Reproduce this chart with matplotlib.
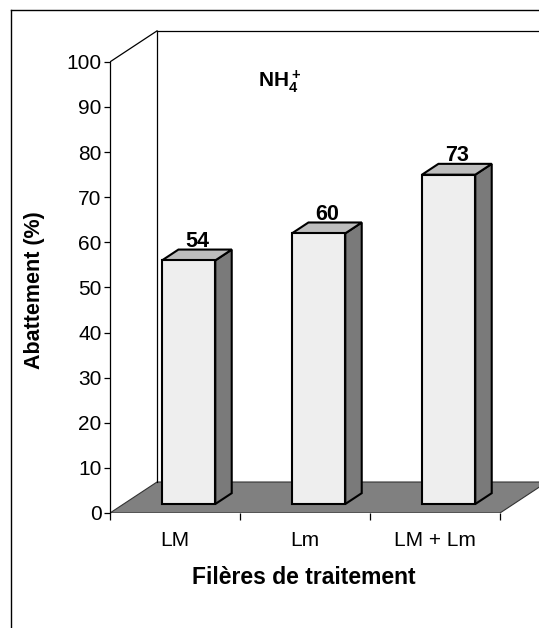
import matplotlib
matplotlib.use("Agg")
import matplotlib.pyplot as plt
from matplotlib.patches import Polygon
from matplotlib.lines import Line2D

plt.rcParams['font.family'] = ['Liberation Sans', 'DejaVu Sans']
plt.rcParams['mathtext.fontset'] = 'custom'
plt.rcParams['mathtext.rm'] = 'Liberation Sans'
plt.rcParams['mathtext.bf'] = 'Liberation Sans:bold'

categories = ['LM', 'Lm', 'LM + Lm']
abattement = [54, 60, 73]
yticks = list(range(0, 101, 10))

# pseudo 3-d box: offset of the full depth, in data units
DX, DY = 0.3615, 6.87
Z0, Z1 = 0.29, 0.64   # front / back of the bars, as depth fraction
BAR_W = 0.41


def proj(x, y, z):
    return (x + z * DX, y + z * DY)


W, H = 539, 628
fig = plt.figure(figsize=(W / 100, H / 100), dpi=100)
ax = fig.add_axes([110 / W, 115 / H, 429 / W, 503 / H])
ax.set_xlim(0, 3.3)
ax.set_ylim(0, 111.5)

n = len(categories)

# back wall edges
ax.plot(*zip(proj(0, 0, 1), proj(0, 100, 1)), color='black', lw=0.9)
ax.plot(*zip(proj(0, 100, 1), proj(n + 1, 100, 1)), color='black', lw=0.9)
ax.plot(*zip(proj(0, 100, 0), proj(0, 100, 1)), color='black', lw=0.9)

# floor
floor = [proj(0, 0, 0), proj(0, 0, 1), proj(n, 0, 1), proj(n, 0, 0)]
ax.add_patch(Polygon(floor, closed=True, fc='#808080', ec='#333333', lw=0.8))

# bars
for i, v in enumerate(abattement):
    x0 = i + 0.5 - BAR_W / 2
    x1 = x0 + BAR_W
    front = [proj(x0, 0, Z0), proj(x1, 0, Z0), proj(x1, v, Z0), proj(x0, v, Z0)]
    side = [proj(x1, 0, Z0), proj(x1, 0, Z1), proj(x1, v, Z1), proj(x1, v, Z0)]
    top = [proj(x0, v, Z0), proj(x1, v, Z0), proj(x1, v, Z1), proj(x0, v, Z1)]
    for pts, col in ((side, '#7a7a7a'), (top, '#bdbdbd'), (front, '#eeeeee')):
        ax.add_patch(Polygon(pts, closed=True, fc=col, ec='black', lw=1.5,
                             joinstyle='miter', zorder=3))
    ax.annotate(str(v), xy=proj(i + 0.5, v, (Z0 + Z1) / 2), xytext=(0, 2),
                textcoords='offset points', ha='center', va='bottom',
                fontsize=15.5, fontweight='bold', zorder=4)

# axes
for s in ('top', 'right', 'bottom'):
    ax.spines[s].set_visible(False)
ax.spines['left'].set_bounds(0, 100)
ax.spines['left'].set_linewidth(0.9)
ax.set_yticks(yticks)
ax.tick_params(axis='y', direction='out', length=4, width=0.9, labelsize=15, pad=2)

ax.set_xticks(range(n + 1))
ax.set_xticklabels([])
ax.set_xticks([i + 0.5 for i in range(n)], minor=True)
ax.set_xticklabels(categories, minor=True)
ax.tick_params(axis='x', which='major', direction='out', length=5, width=0.9)
ax.tick_params(axis='x', which='minor', length=0, labelsize=15, pad=13)

fig.text(280 / W, 1 - 82 / H, r'$\mathbf{NH_4^+}$', ha='center', va='center',
         fontsize=15)
fig.text(35 / W, 1 - 290 / H, 'Abattement (%)', rotation=90, ha='center',
         va='center', fontsize=15.5, fontweight='bold')
fig.text(304 / W, 1 - 578 / H, 'Filères de traitement', ha='center',
         va='center', fontsize=16.5, fontweight='bold')

# chart area border
fig.add_artist(Line2D([11 / W, 11 / W], [0, 1 - 10 / H], color='black', lw=1,
                      transform=fig.transFigure))
fig.add_artist(Line2D([11 / W, 1], [1 - 10 / H, 1 - 10 / H], color='black', lw=1,
                      transform=fig.transFigure))

fig.savefig('out.png', dpi=100)
